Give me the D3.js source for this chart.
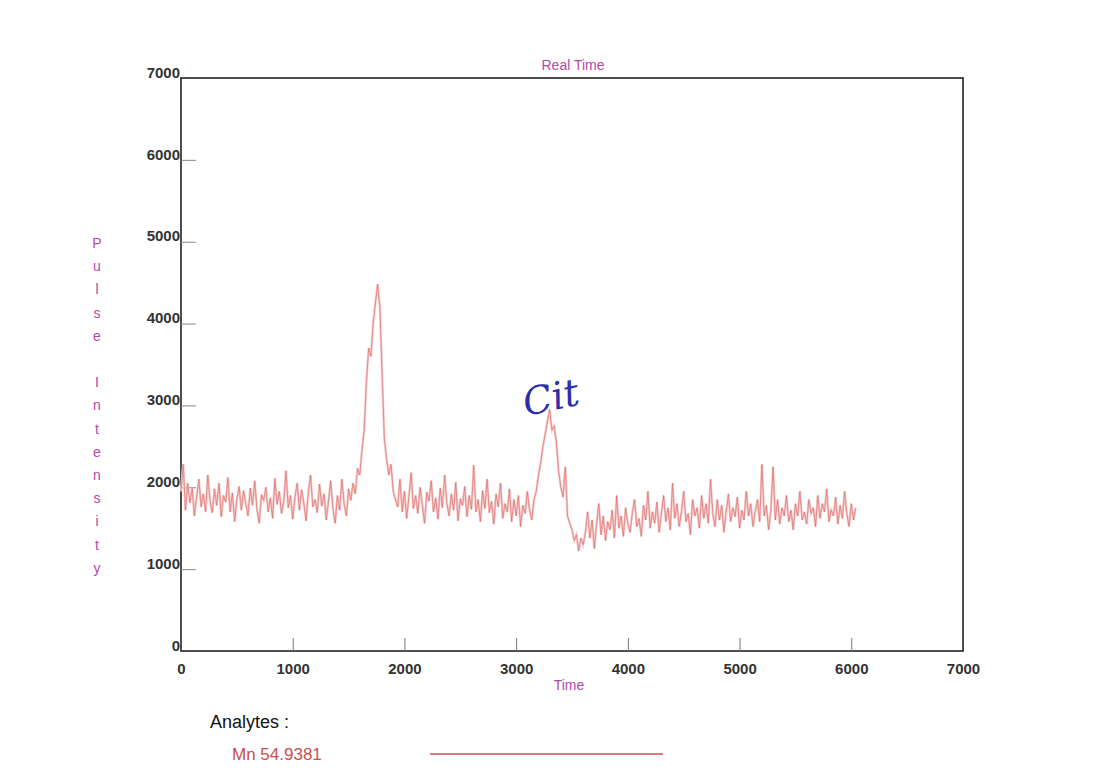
<!DOCTYPE html>
<html>
<head>
<meta charset="utf-8">
<script src="https://cdn.jsdelivr.net/npm/d3@7"></script>
<style>
  body { margin: 0; background: #fff; }
  svg { display: block; }
</style>
</head>
<body>
<svg id="chart" width="1112" height="780"></svg>
<script>
// Mn 54.9381 trace, one reading every 20 time units starting at 0
var timeStart = 0
var timeStep = 20
var intensity = [
    // 0 - 1520 baseline
    1950, 2280, 1720, 2050, 1810, 1990, 1650, 1880, 2100, 1760,
    1920, 1700, 2150, 1830, 1690, 1980, 1780, 2050, 1640, 1900,
    1820, 2120, 1700, 1930, 1580, 1850, 2010, 1720, 1960, 1800,
    1650, 1990, 1780, 2080, 1730, 1560, 1910, 1840, 2000, 1700,
    1870, 1620, 2110, 1790, 1950, 1680, 1830, 2200, 1750, 1900,
    1610, 1880, 2050, 1720, 1970, 1800, 1590, 1940, 2150, 1760,
    1850, 1690, 2040, 1770, 1920, 1600, 1830, 2080, 1740, 1560,
    1900, 1720, 2100, 1800, 1650, 1980, 1840,
    // 1540 - 1900 first peak
    2050, 1920, 2230, 2150, 2450, 2700, 3300, 3700, 3600, 4000,
    4250, 4480, 4200, 3400, 2600, 2350, 2150, 2280, 1950,
    // 1920 - 3160 baseline
    1850, 1760, 2100, 1700, 1950, 1620, 1880, 2180, 1740, 1900,
    1680, 2000, 1790, 1560, 1940, 1830, 2080, 1700, 1870, 1610,
    1990, 1750, 2150, 1800, 1650, 1920, 1720, 2060, 1590, 1860,
    1780, 2010, 1640, 1900, 1730, 2270, 1700, 1850, 1580, 1960,
    1740, 2100, 1690, 1830, 1550, 1920, 1760, 2050, 1620, 1800,
    1700, 1980, 1580, 1850, 1650, 1900, 1520, 1780, 1680, 1950,
    1720, 1600, 1850,
    // 3180 - 3600 second peak (Cit)
    1950, 2150, 2300, 2500, 2650, 2800, 2950, 2700, 2750, 2550,
    2200, 2000, 1880, 2250, 1650, 1560, 1480, 1350, 1420, 1220,
    1380, 1300,
    // 3620 - 6040 baseline
    1450, 1700, 1380, 1600, 1250, 1550, 1800, 1420, 1650, 1350,
    1580, 1480, 1720, 1380, 1900, 1500, 1650, 1400, 1750, 1550,
    1450, 1680, 1850, 1520, 1620, 1400, 1780, 1600, 1950, 1500,
    1700, 1560, 1820, 1450, 1680, 1900, 1580, 1750, 1480, 2050,
    1620, 1800, 1520, 1700, 1950, 1580, 1680, 1420, 1850, 1650,
    1750, 1500, 1900, 1620, 1800, 1560, 2100, 1680, 1520, 1850,
    1600, 1780, 1450, 1700, 1920, 1580, 1750, 1640, 1880, 1500,
    1720, 1600, 1950, 1650, 1800, 1520, 1700, 1850, 1580, 2280,
    1650, 1780, 1480, 1720, 2250, 1600, 1850, 1550, 1750, 1650,
    1900, 1580, 1720, 1480, 1800, 1650, 1950, 1600, 1700, 1550,
    1850, 1680, 1750, 1520, 1900, 1620, 1800, 1700, 1980, 1580,
    1720, 1650, 1880, 1550, 1780, 1620, 1950, 1680, 1520, 1800,
    1600, 1750
]
var xTicks = [0, 1000, 2000, 3000, 4000, 5000, 6000, 7000]
var yTicks = [0, 1000, 2000, 3000, 4000, 5000, 6000, 7000]
var yLabelLetters = ["P", "u", "l", "s", "e", "", "I", "n", "t", "e", "n", "s", "i", "t", "y"]
var analyteName = "Mn 54.9381"

var svg = d3.select("#chart")
// plot box (careful: "top" is taken by window.top)
var plotL = 181, plotR = 963, plotT = 78, plotB = 651
var purple = "#b548a8"

var x = d3.scaleLinear().domain([0, 7000]).range([plotL, plotR])
var y = d3.scaleLinear().domain([0, 7000]).range([plotB, plotT])

svg.append("rect").attr("width", 1112).attr("height", 780).attr("fill", "#fff")

// frame
svg.append("rect")
    .attr("x", plotL).attr("y", plotT)
    .attr("width", plotR - plotL).attr("height", plotB - plotT)
    .attr("fill", "none").attr("stroke", "#222").attr("stroke-width", 1.6)

// y axis: ticks point into the plot, labels sit on top of the tick
var yAxis = d3.axisLeft(y).tickValues(yTicks).tickSize(-15).tickPadding(1).tickFormat(d3.format("d"))
var gy = svg.append("g").attr("transform", "translate(" + plotL + ",0)").call(yAxis)
gy.select(".domain").remove()
gy.selectAll(".tick line").attr("stroke", "#888").attr("stroke-width", 1)
gy.selectAll(".tick text")
    .attr("dy", "-0.05em")
    .attr("font-family", "Liberation Sans, Arial, sans-serif")
    .attr("font-size", 15).attr("font-weight", "bold").attr("fill", "#333")
gy.selectAll(".tick").filter(function (d) { return d === 0 || d === 7000 }).select("line").remove()

// x axis: ticks point up
var xAxis = d3.axisBottom(x).tickValues(xTicks).tickSize(-13).tickPadding(12).tickFormat(d3.format("d"))
var gx = svg.append("g").attr("transform", "translate(0," + plotB + ")").call(xAxis)
gx.select(".domain").remove()
gx.selectAll(".tick line").attr("stroke", "#777").attr("stroke-width", 1)
gx.selectAll(".tick").filter(function (d) { return d === 0 || d === 7000 }).select("line").remove()
gx.selectAll(".tick text")
    .attr("font-family", "Liberation Sans, Arial, sans-serif")
    .attr("font-size", 15).attr("font-weight", "bold").attr("fill", "#333")

// trace: pale halo under a thin red line, like the printout
var line = d3.line()
    .x(function (d, i) { return x(timeStart + i * timeStep) })
    .y(function (d) { return y(d) })

svg.append("path")
    .datum(intensity)
    .attr("d", line)
    .attr("fill", "none")
    .attr("stroke", "#f6cccc").attr("stroke-width", 2.4)
svg.append("path")
    .datum(intensity)
    .attr("d", line)
    .attr("fill", "none")
    .attr("stroke", "#d65f5e").attr("stroke-width", 0.6)

// titles
svg.append("text").attr("x", 573).attr("y", 70).attr("text-anchor", "middle")
    .attr("font-family", "Liberation Sans, Arial, sans-serif").attr("font-size", 14)
    .attr("fill", purple).text("Real Time")
svg.append("text").attr("x", 569).attr("y", 690).attr("text-anchor", "middle")
    .attr("font-family", "Liberation Sans, Arial, sans-serif").attr("font-size", 14)
    .attr("fill", purple).text("Time")

svg.append("g").selectAll("text")
    .data(yLabelLetters)
    .join("text")
    .attr("x", 97)
    .attr("y", function (d, i) { return 248 + i * 23.2 })
    .attr("text-anchor", "middle")
    .attr("font-family", "Liberation Sans, Arial, sans-serif").attr("font-size", 14)
    .attr("fill", purple)
    .text(function (d) { return d })

// handwritten note
svg.append("text")
    .attr("transform", "translate(526,416) rotate(-12)")
    .attr("font-family", "DejaVu Serif, serif").attr("font-style", "italic")
    .attr("font-size", 38).attr("fill", "#2d2fa8")
    .text("Cit")

// legend
svg.append("text").attr("x", 210).attr("y", 728)
    .attr("font-family", "Liberation Sans, Arial, sans-serif").attr("font-size", 18)
    .attr("fill", "#111").text("Analytes :")
svg.append("text").attr("x", 232).attr("y", 760)
    .attr("font-family", "Liberation Sans, Arial, sans-serif").attr("font-size", 17)
    .attr("fill", "#c8504f").text(analyteName)
svg.append("line")
    .attr("x1", 430).attr("x2", 663).attr("y1", 754).attr("y2", 754)
    .attr("stroke", "#d0504f").attr("stroke-width", 1.6)
</script>
</body>
</html>
